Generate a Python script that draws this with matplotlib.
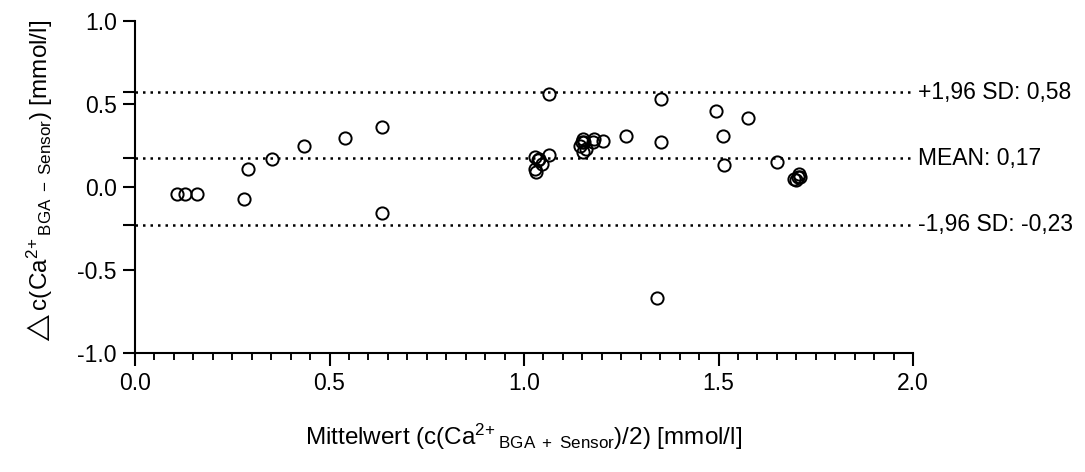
import matplotlib
matplotlib.use("Agg")
import matplotlib.pyplot as plt
import numpy as np
from matplotlib import font_manager

names = {f.name for f in font_manager.fontManager.ttflist}
base_font = "Liberation Sans Narrow" if "Liberation Sans Narrow" in names else "Liberation Sans"

plt.rcParams['font.family'] = [base_font, 'DejaVu Sans']
plt.rcParams['mathtext.fontset'] = 'custom'
plt.rcParams['mathtext.rm'] = base_font
plt.rcParams['mathtext.it'] = base_font
plt.rcParams['mathtext.bf'] = base_font

# ---- data ----
mean_values = [0.109, 0.129, 0.159, 0.281, 0.291, 0.351, 0.434, 0.540, 0.635, 0.635,
               1.028, 1.030, 1.028, 1.035, 1.039, 1.045, 1.063, 1.065,
               1.144, 1.151, 1.151, 1.154, 1.159, 1.148, 1.177, 1.181, 1.204, 1.261,
               1.342, 1.351, 1.353, 1.494, 1.512, 1.514, 1.577, 1.650,
               1.694, 1.700, 1.705, 1.708, 1.710]
diff_values = [-0.042, -0.042, -0.042, -0.070, 0.110, 0.170, 0.250, 0.295, 0.360, -0.157,
               0.107, 0.090, 0.180, 0.160, 0.170, 0.140, 0.190, 0.560,
               0.250, 0.290, 0.210, 0.270, 0.230, 0.270, 0.270, 0.290, 0.280, 0.310,
               -0.670, 0.530, 0.270, 0.460, 0.310, 0.130, 0.415, 0.150,
               0.050, 0.040, 0.060, 0.080, 0.060]

ref_values = [0.570, 0.172, -0.226]
ref_labels = ["+1,96 SD: 0,58", "MEAN: 0,17", "-1,96 SD: -0,23"]

x_ticks = [0.0, 0.5, 1.0, 1.5, 2.0]
x_ticklabels = ["0.0", "0.5", "1.0", "1.5", "2.0"]
y_ticks = [-1.0, -0.5, 0.0, 0.5, 1.0]
y_ticklabels = ["-1.0", "-0.5", "0.0", "0.5", "1.0"]

W, H = 1085, 472
fig = plt.figure(figsize=(W / 100, H / 100), dpi=100)
left, right, top, bottom = 135, 913, 21, 353
ax = fig.add_axes([left / W, (H - bottom) / H, (right - left) / W, (bottom - top) / H])

ax.set_xlim(0, 2)
ax.set_ylim(-1, 1)

lw = 1.5
for v, lab in zip(ref_values, ref_labels):
    ax.plot([0, 2], [v, v], color='black', linewidth=1.8, linestyle=(0, (1, 2.0)),
            clip_on=False, zorder=2)
    ax.text(2.0 + 5 / 389, v, lab, fontsize=16.5, va='center', ha='left',
            family=['Liberation Sans', 'DejaVu Sans'])

ax.plot(mean_values, diff_values, linestyle='none', marker='o', markersize=8.8,
        markerfacecolor='none', markeredgecolor='black', markeredgewidth=1.4,
        clip_on=False, zorder=3)

for s in ['top', 'right']:
    ax.spines[s].set_visible(False)
for s in ['left', 'bottom']:
    ax.spines[s].set_linewidth(lw)
    ax.spines[s].set_color('black')

ax.set_xticks(x_ticks)
ax.set_xticklabels(x_ticklabels)
ax.set_xticks(np.round(np.arange(0, 2.0001, 0.05), 2), minor=True)
ax.set_yticks(y_ticks)
ax.set_yticklabels(y_ticklabels)
ax.set_yticks(ref_values, minor=True)

ax.tick_params(axis='x', which='major', length=9.5, width=lw, direction='out', pad=4,
               labelsize=16.5)
ax.tick_params(axis='x', which='minor', length=5, width=lw * 0.9, direction='out')
ax.tick_params(axis='y', which='major', length=9, width=lw, direction='out', pad=4,
               labelsize=16.5)
ax.tick_params(axis='y', which='minor', length=9, width=lw, direction='out')

fig.text(524 / W, 1 - 445 / H,
         r"Mittelwert (c(Ca$^{2\!+}$$_{\mathrm{BGA\ +\ Sensor}}$)/2) [mmol/l]",
         fontsize=17.5, ha='center', va='baseline')

fig.text(40 / W, 1 - 183 / H,
         r"$\triangle$c(Ca$^{2\!+}$$_{\mathrm{BGA\ -\ Sensor}}$) [mmol/l]",
         fontsize=17.5, ha='center', va='center', rotation=90)

fig.savefig("out.png", dpi=100)
